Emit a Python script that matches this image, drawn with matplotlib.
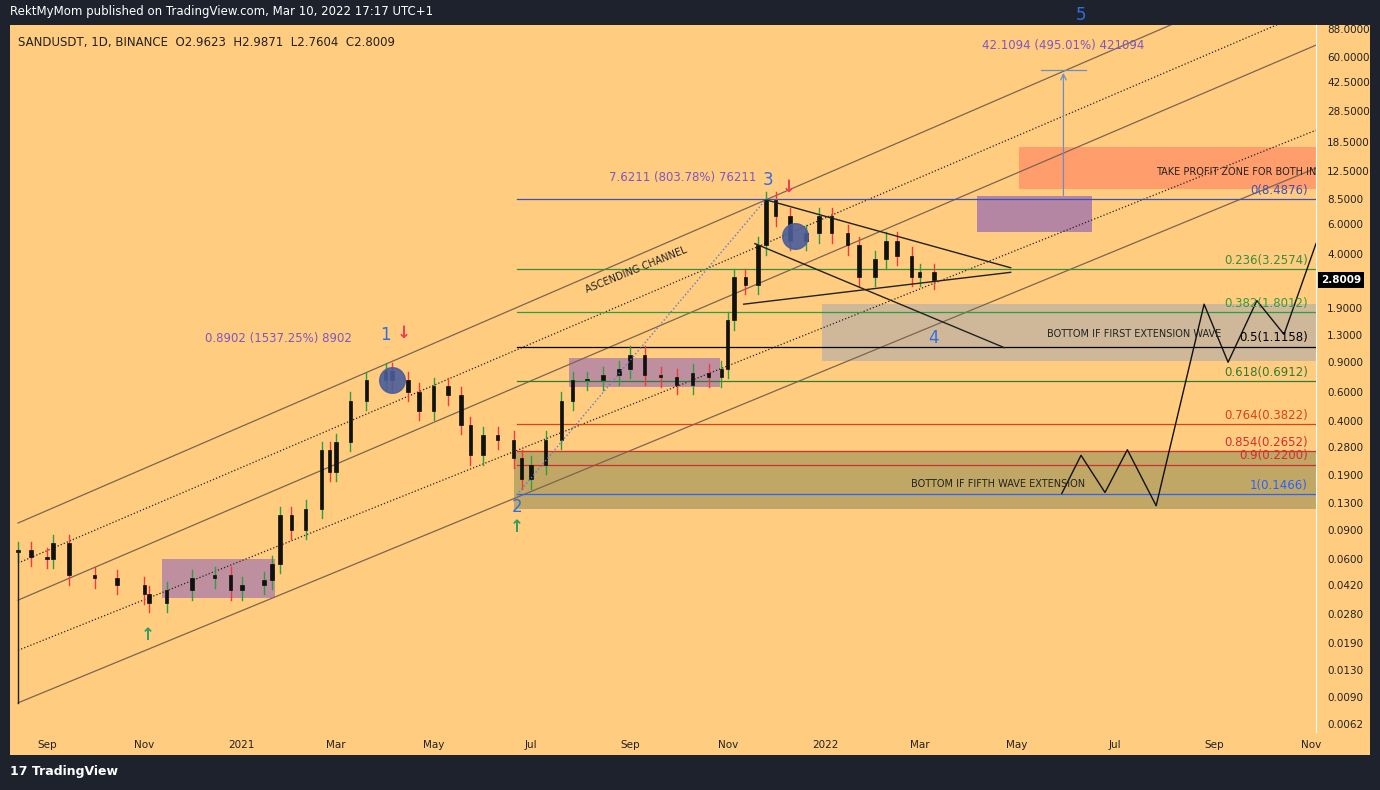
import matplotlib
matplotlib.use("Agg")
import matplotlib.pyplot as plt
import matplotlib.dates as mdates
from matplotlib.patches import Rectangle
from datetime import datetime
import numpy as np

# ---------------- data ----------------
dates = ["2020-08-14","2020-08-22","2020-09-01","2020-09-05","2020-09-15","2020-10-01","2020-10-15",
         "2020-11-01","2020-11-04","2020-11-15","2020-12-01","2020-12-15","2020-12-25","2021-01-01",
         "2021-01-15","2021-01-20","2021-01-25","2021-02-01","2021-02-10","2021-02-20","2021-02-25",
         "2021-03-01","2021-03-10","2021-03-20","2021-04-01","2021-04-05","2021-04-15","2021-04-22",
         "2021-05-01","2021-05-10","2021-05-18","2021-05-24","2021-06-01","2021-06-10","2021-06-20",
         "2021-06-25","2021-07-01","2021-07-10","2021-07-20","2021-07-27","2021-08-05","2021-08-15",
         "2021-08-25","2021-09-01","2021-09-10","2021-09-20","2021-09-30","2021-10-10","2021-10-20",
         "2021-10-28","2021-11-01","2021-11-05","2021-11-12","2021-11-20","2021-11-25","2021-12-01",
         "2021-12-10","2021-12-20","2021-12-28","2022-01-05","2022-01-15","2022-01-22","2022-02-01",
         "2022-02-08","2022-02-15","2022-02-24","2022-03-01","2022-03-10"]
closes = [0.068,0.062,0.060,0.075,0.048,0.046,0.042,0.037,0.033,0.039,0.046,0.048,0.039,0.042,
          0.045,0.056,0.11,0.09,0.12,0.27,0.20,0.30,0.53,0.70,0.80,0.70,0.60,0.46,0.65,0.57,
          0.38,0.25,0.33,0.31,0.24,0.18,0.22,0.31,0.53,0.70,0.70,0.75,0.82,1.00,0.75,0.73,
          0.66,0.78,0.73,0.82,1.60,2.90,2.60,4.50,8.40,6.70,4.80,5.30,6.70,5.30,4.50,2.90,
          3.70,4.80,3.90,2.90,3.10,2.80]

fib_levels = [8.4876, 3.2574, 1.8012, 1.1158, 0.6912, 0.3822, 0.2652, 0.2200, 0.1466]
fib_labels = ["0(8.4876)","0.236(3.2574)","0.382(1.8012)","0.5(1.1158)","0.618(0.6912)",
              "0.764(0.3822)","0.854(0.2652)","0.9(0.2200)","1(0.1466)"]
fib_colors = ["#3f51b5","#388e3c","#2e9e3e","#000000","#2e7d32","#d84315","#d32f2f","#d32f2f","#2962ff"]

yticks = [88,60,42.5,28.5,18.5,12.5,8.5,6.0,4.0,1.9,1.3,0.9,0.6,0.4,0.28,0.19,0.13,0.09,
          0.06,0.042,0.028,0.019,0.013,0.009,0.0062]

channel_start = "2020-08-14"; channel_end = "2022-11-04"
channel_lines = [(0.0985,221,"-"),(0.0568,117.5,":"),(0.0341,70.6,"-"),(0.0171,21.9,":"),(0.0083,13.0,"-")]

zigzag_dates = ["2022-05-29","2022-06-10","2022-06-25","2022-07-09","2022-07-27","2022-08-26",
                "2022-09-10","2022-09-28","2022-10-15","2022-11-04"]
zigzag_prices = [0.148,0.25,0.15,0.27,0.125,2.0,0.9,2.1,1.32,4.6]

D = lambda s: mdates.date2num(datetime.strptime(s, "%Y-%m-%d"))

# ---------------- figure ----------------
fig = plt.figure(figsize=(13.8,7.9), dpi=100, facecolor="#1e222d")
bg = fig.add_axes([10/1380, 35/790, 1360/1380, 730/790], zorder=-1)
bg.set_facecolor("#ffcc80"); bg.set_xticks([]); bg.set_yticks([])
for s in bg.spines.values(): s.set_visible(False)

ax = fig.add_axes([10/1380, 58/790, 1306/1380, 707/790], zorder=1)
ax.set_facecolor("#ffcc80")
ax.set_yscale("log")
ymin, ymax = 0.00556, 93.1
ax.set_ylim(ymin, ymax)
ax.set_xlim(D("2020-08-09"), D("2022-11-04"))
for s in ax.spines.values(): s.set_visible(False)
ax.spines["right"].set_visible(True); ax.spines["right"].set_color("#ffffff")
ax.yaxis.tick_right()
ax.set_yticks(yticks)
ax.set_yticklabels([f"{v:.4f}" for v in yticks], fontsize=7.5, color="#222222")
ax.yaxis.set_minor_locator(matplotlib.ticker.NullLocator())
ax.tick_params(axis="y", length=0, pad=8)
ax.xaxis.set_major_locator(mdates.MonthLocator(bymonth=[1,3,5,7,9,11]))
def xfmt(x, pos):
    d = mdates.num2date(x)
    return str(d.year) if d.month == 1 else d.strftime("%b")
ax.xaxis.set_major_formatter(matplotlib.ticker.FuncFormatter(xfmt))
ax.tick_params(axis="x", length=0, labelsize=7.5, colors="#222222", pad=6)

# candles: black bodies, coloured wicks
xs = [D(d) for d in dates]
opens = [closes[0]*0.97] + closes[:-1]
for i,(x,o,c) in enumerate(zip(xs,opens,closes)):
    col = "#2e9e3e" if c >= o else "#ef3b3b"
    hi, lo = max(o,c)*1.12, min(o,c)*0.88
    ax.plot([x,x],[lo,hi], color=col, lw=1.0, zorder=4)
    w = 2.2
    ax.add_patch(Rectangle((x-w/2, min(o,c)), w, abs(c-o) if c!=o else min(o,c)*0.02,
                           facecolor="#111111", edgecolor="#111111", lw=0.5, zorder=4))
ax.plot([D("2020-08-14")]*2, [0.0083, 0.068], color="#222222", lw=1, zorder=4)

# channel
for p0,p1,ls in channel_lines:
    ax.plot([D(channel_start), D(channel_end)], [p0,p1], ls=ls, color="#7a6650" if ls=="-" else "#222222",
            lw=0.9, zorder=2)

# boxes
def box(d0,d1,p0,p1,fc,alpha):
    ax.add_patch(Rectangle((D(d0),p0), D(d1)-D(d0), p1-p0, facecolor=fc, alpha=alpha, edgecolor="none", zorder=1))
box("2020-11-12","2021-01-22",0.035,0.060,"#9c6fb0",0.65)
box("2021-07-25","2021-10-27",0.64,0.95,"#9c6fb0",0.65)
box("2022-04-06","2022-06-17",5.4,8.8,"#9c6fb0",0.75)
box("2022-05-02","2022-11-04",9.8,17.5,"#ff8a65",0.7)
box("2021-12-30","2022-11-04",0.91,2.0,"#a9a9b0",0.55)
box("2021-06-20","2022-11-04",0.12,0.26,"#8d8a50",0.55)

# fib lines
for lv,lb,c in zip(fib_levels, fib_labels, fib_colors):
    ax.plot([D("2021-06-22"), D("2022-11-04")], [lv,lv], color=c, lw=0.9, zorder=3)
    ax.text(D("2022-10-30"), lv*1.03, lb, color=c, fontsize=8.5, ha="right", va="bottom", zorder=6)

# triangle / wedge lines
ax.plot([D("2021-11-25"),D("2022-04-27")],[8.4,3.3],color="#222",lw=1,zorder=5)
ax.plot([D("2021-11-11"),D("2022-04-27")],[2.0,3.1],color="#222",lw=1,zorder=5)
ax.plot([D("2021-11-18"),D("2022-04-23")],[4.6,1.1],color="#222",lw=1,zorder=5)
ax.plot([D("2021-06-22"),D("2021-11-25")],[0.145,8.49],color="#5b7bd5",ls=":",lw=1,zorder=5)
ax.plot([D(d) for d in zigzag_dates], zigzag_prices, color="#111", lw=1, zorder=5)

# projection arrow
ax.annotate("", xy=(D("2022-05-30"),50), xytext=(D("2022-05-30"),8.6),
            arrowprops=dict(arrowstyle="->", color="#6a8fc0", lw=0.9), zorder=6)
ax.plot([D("2022-05-16"),D("2022-06-13")],[50,50],color="#6a8fc0",lw=0.9,zorder=6)

# blue circles
for d,p in [("2021-04-05",0.70),("2021-12-13",5.1)]:
    ax.scatter([D(d)],[p], s=340, color="#4a5d9a", alpha=0.9, zorder=7)

# texts
blue = "#2f6fe0"; purple = "#7e57c2"
for t,d,p in [("1","2021-04-01",1.3),("2","2021-06-22",0.122),("3","2021-11-26",11.0),("4","2022-03-10",1.25)]:
    ax.text(D(d), p, t, color=blue, fontsize=12, ha="center", va="center", zorder=8)
fig.text(1081/1380, 1-15/790, "5", color=blue, fontsize=12, ha="center", va="center")
ax.text(D("2021-01-24"), 1.25, "0.8902 (1537.25%) 8902", color=purple, fontsize=8.5, ha="center", va="center")
ax.text(D("2021-10-04"), 11.4, "7.6211 (803.78%) 76211", color=purple, fontsize=8.5, ha="center", va="center")
ax.text(D("2022-05-30"), 70, "42.1094 (495.01%) 421094", color=purple, fontsize=8.5, ha="center", va="center")
for d,p,sym,c in [("2021-04-12",1.35,"\u2193","#ef3b56"),("2021-12-09",10.0,"\u2193","#ef3b56"),
                  ("2020-11-03",0.021,"\u2191","#2e9e5e"),("2021-06-22",0.093,"\u2191","#2e9e5e")]:
    ax.text(D(d), p, sym, color=c, fontsize=12, fontweight="bold", ha="center", va="center", zorder=8)
ax.text(D("2021-09-05"), 3.2, "ASCENDING CHANNEL", rotation=22, fontsize=7, color="#222", ha="center", va="center")
ax.text(D("2022-11-04"), 12.3, "TAKE PROFIT ZONE FOR BOTH IN", fontsize=7, color="#222", ha="right", va="center", clip_on=True, zorder=8)
ax.text(D("2022-07-13"), 1.32, "BOTTOM IF FIRST EXTENSION WAVE", fontsize=7, color="#222", ha="center", va="center", zorder=8)
ax.text(D("2022-04-19"), 0.168, "BOTTOM IF FIFTH WAVE EXTENSION", fontsize=7, color="#222", ha="center", va="center", zorder=8)
ax.text(1.004, (np.log10(2.8009)-np.log10(ymin))/(np.log10(ymax)-np.log10(ymin)), "2.8009",
        transform=ax.transAxes, fontsize=7.5, color="white", fontweight="bold", va="center", ha="left",
        bbox=dict(boxstyle="square,pad=0.3", fc="black", ec="none"), zorder=9, clip_on=False)
ax.text(0.006, 0.985, "SANDUSDT, 1D, BINANCE  O2.9623  H2.9871  L2.7604  C2.8009",
        transform=ax.transAxes, fontsize=8.5, color="#222", va="top")
fig.text(10/1380, 1-12/790, "RektMyMom published on TradingView.com, Mar 10, 2022 17:17 UTC+1",
         color="white", fontsize=8.5, va="center")
fig.text(10/1380, 1-772/790, "17 TradingView", color="white", fontsize=9, fontweight="bold", va="center")

fig.savefig("out.png", dpi=100, facecolor=fig.get_facecolor())
